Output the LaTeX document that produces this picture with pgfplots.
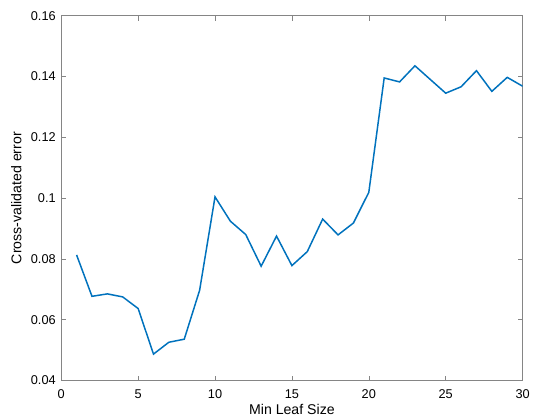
\documentclass[border=0pt]{standalone}
\usepackage{pgfplots}
\pgfplotsset{compat=1.18}
\usepackage{fontspec}
\setmainfont{Liberation Sans}
\definecolor{mlblue}{HTML}{0072BD}
\definecolor{axgray}{HTML}{858585}
\begin{document}
\begin{tikzpicture}
\begin{axis}[
  scale only axis,
  width=463.5pt, height=366.6pt,
  xmin=0, xmax=30, ymin=0.04, ymax=0.16,
  xtick={0,5,...,30},
  ytick={0.04,0.06,0.08,0.1,0.12,0.14,0.16},
  tick align=inside,
  tick pos=both,
  major tick length=5pt,
  axis line style={axgray, line width=0.6pt},
  every tick/.style={axgray, line width=0.6pt},
  /pgf/number format/assume math mode=true,
  yticklabel style={/pgf/number format/fixed, /pgf/number format/precision=2, font=\fontsize{12.8}{14}\selectfont, xshift=-2pt},
  xticklabel style={font=\fontsize{12.8}{14}\selectfont, yshift=-6pt},
  xlabel={Min Leaf Size},
  ylabel={Cross-validated error},
  label style={font=\fontsize{14.2}{16}\selectfont},
  xlabel style={yshift=2pt},
  ylabel style={yshift=2.5pt},
]
\addplot[mlblue, line width=1.5pt] coordinates {
(1,0.0813) (2,0.0677) (3,0.0685) (4,0.0675) (5,0.0637)
(6,0.0487) (7,0.0526) (8,0.0536) (9,0.0697) (10,0.1004)
(11,0.0924) (12,0.0880) (13,0.0776) (14,0.0875) (15,0.0778)
(16,0.0824) (17,0.0931) (18,0.0879) (19,0.0918) (20,0.1019)
(21,0.1395) (22,0.1382) (23,0.1435) (24,0.1390) (25,0.1345)
(26,0.1366) (27,0.1419) (28,0.1351) (29,0.1397) (30,0.1368)
};
\end{axis}
\path ([xshift=-61.5pt,yshift=-38.7pt]current axis.south west) rectangle ([xshift=8pt,yshift=15.7pt]current axis.north east);
\end{tikzpicture}
\end{document}
